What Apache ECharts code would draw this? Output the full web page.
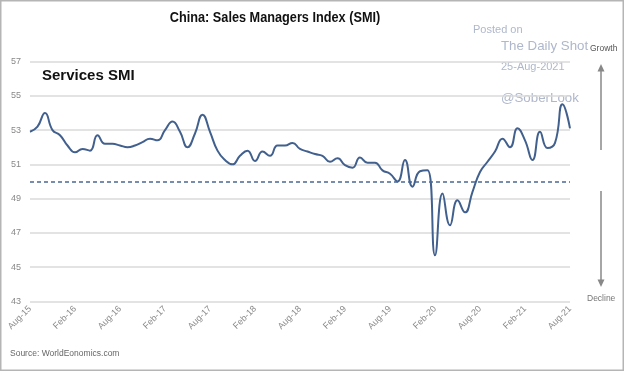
<!DOCTYPE html>
<html>
<head>
<meta charset="utf-8">
<script src="https://cdn.jsdelivr.net/npm/echarts@6/dist/echarts.min.js"></script>
<style>
html,body{margin:0;padding:0;background:#fff;}
#c{width:624px;height:371px;}
</style>
</head>
<body>
<div id="c"></div>
<script>
// ---- data ----
var startYear = 2015, startMonth = 7; // Aug-2015 (0-based month)
var monthNames = ['Jan','Feb','Mar','Apr','May','Jun','Jul','Aug','Sep','Oct','Nov','Dec'];
var smiValues = [
  52.9, 53.2, 54.0, 53.0, 52.7, 52.1, 51.7, 51.9, 51.8, 52.7,
  52.2, 52.2, 52.1, 52.0, 52.1, 52.3, 52.5, 52.4, 53.0, 53.5,
  52.9, 52.0, 52.8, 53.9, 52.9, 51.8, 51.25, 51.0, 51.5, 51.8,
  51.2, 51.75, 51.5, 52.1, 52.1, 52.25, 51.9, 51.75, 51.6, 51.5,
  51.15, 51.35, 50.95, 50.8, 51.4, 51.1, 51.1, 50.65, 50.45, 50.0,
  51.25, 49.7, 50.6, 50.65, 45.7, 49.3, 47.45, 48.9, 48.2, 49.4,
  50.55, 51.15, 51.75, 52.5, 52.0, 53.1, 52.4, 51.25, 52.9, 51.95,
  52.25, 54.5, 53.1
];
var threshold = 50;
var yMin = 43, yMax = 57, yStep = 2;
var titleText = 'China: Sales Managers Index (SMI)';
var seriesName = 'Services SMI';
var sourceText = 'Source: WorldEonomics.com';

var categories = [];
for (var k = 0; k < smiValues.length; k++) {
  var m = (startMonth + k) % 12;
  var y = startYear + Math.floor((startMonth + k) / 12);
  categories.push(monthNames[m] + '-' + String(y).slice(2));
}

var chart = echarts.init(document.getElementById('c'), null, {renderer:'canvas'});
var wm = '#aeb7cb';
chart.setOption({
  animation:false,
  backgroundColor:'#fff',
  grid:{left:30, right:54, top:61.5, bottom:69.5, containLabel:false},
  xAxis:{
    type:'category', data:categories, boundaryGap:false,
    axisLine:{show:false}, axisTick:{show:false},
    axisLabel:{interval:5, rotate:45, margin:6, fontSize:9, color:'#8a8a8a', fontFamily:'Liberation Sans, Arial'},
    splitLine:{show:false}
  },
  yAxis:{
    type:'value', min:yMin, max:yMax, interval:yStep,
    axisLine:{show:false}, axisTick:{show:false},
    axisLabel:{margin:9, fontSize:9, color:'#888', fontFamily:'Liberation Sans, Arial'},
    splitLine:{lineStyle:{color:'#dadada', width:1.5}}
  },
  series:[{
    name:seriesName, type:'line', data:smiValues, smooth:0.5, symbol:'none',
    lineStyle:{color:'#41608e', width:2},
    markLine:{
      silent:true, symbol:'none', label:{show:false},
      lineStyle:{color:'#4a6896', type:[4,3], width:1.5},
      data:[{yAxis:threshold}]
    }
  }],
  graphic:[
    {type:'rect', shape:{x:0.75,y:0.75,width:622.5,height:369.5}, style:{fill:'none', stroke:'#b5b5b5', lineWidth:1.5}, silent:true},
    {type:'text', x:275, y:17.5, scaleX:0.82, style:{text:titleText, font:'bold 15.5px "Liberation Sans", Arial', fill:'#111', align:'center', verticalAlign:'middle'}},
    {type:'text', left:42, top:68, style:{text:seriesName, font:'bold 15px "Liberation Sans", Arial', fill:'#111'}},
    {type:'text', left:10, top:349, style:{text:sourceText, font:'8.5px "Liberation Sans", Arial', fill:'#666'}},
    {type:'text', left:473, top:24, style:{text:'Posted on', font:'11px "Liberation Sans", Arial', fill:wm}},
    {type:'text', left:501, top:40, style:{text:'The Daily Shot', font:'13.3px "Liberation Sans", Arial', fill:wm}},
    {type:'text', left:501, top:61, style:{text:'25-Aug-2021', font:'11px "Liberation Sans", Arial', fill:wm}},
    {type:'text', left:501, top:92, style:{text:'@SoberLook', font:'13.3px "Liberation Sans", Arial', fill:wm}},
    {type:'text', left:590, top:44, style:{text:'Growth', font:'8.5px "Liberation Sans", Arial', fill:'#555'}},
    {type:'text', left:587, top:294, style:{text:'Decline', font:'8.5px "Liberation Sans", Arial', fill:'#777'}},
    {type:'line', shape:{x1:601,y1:150,x2:601,y2:70}, style:{stroke:'#888', lineWidth:1.5}},
    {type:'polygon', shape:{points:[[601,64],[597.5,71.5],[604.5,71.5]]}, style:{fill:'#888'}},
    {type:'line', shape:{x1:601,y1:191,x2:601,y2:280}, style:{stroke:'#888', lineWidth:1.5}},
    {type:'polygon', shape:{points:[[601,287],[597.5,279.5],[604.5,279.5]]}, style:{fill:'#888'}}
  ]
});
</script>
</body>
</html>
